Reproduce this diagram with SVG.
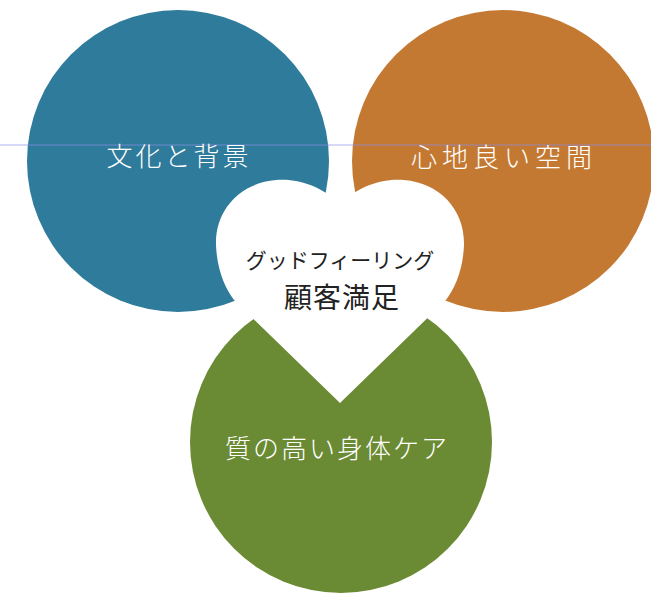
<svg xmlns="http://www.w3.org/2000/svg" width="651" height="597" viewBox="0 0 651 597">
  <style>
    .lbl { font-family: "Noto Sans CJK JP", "Noto Sans", sans-serif; font-weight: 300; fill: #ffffff; text-anchor: middle; }
    .ctr { font-family: "Noto Sans CJK JP", "Noto Sans", sans-serif; font-weight: 400; fill: #222222; text-anchor: middle; }
  </style>
  <rect x="0" y="0" width="651" height="597" fill="#ffffff"/>
  <g id="culture">
    <circle cx="178" cy="161" r="151" fill="#2e7b9b"/>
  </g>
  <g id="space">
    <circle cx="503" cy="161" r="151" fill="#c47933"/>
  </g>
  <g id="care">
    <circle cx="341" cy="442" r="151" fill="#6a8a33"/>
  </g>
  <line x1="0" y1="145" x2="651" y2="145" stroke="#8a90e6" stroke-width="2" stroke-opacity="0.35"/>
  <g id="satisfaction">
    <path d="M340 205 C325 188 300 178 276 180 C240 183 215 210 216 245 C217 270 225 288 234 300 L340 403 L446 300 C455 288 463 270 464 245 C465 210 440 183 404 180 C380 178 355 188 340 205 Z" fill="#ffffff"/>
    <text class="ctr" x="340" y="268" font-size="21">グッドフィーリング</text>
    <text class="ctr" x="342" y="308" font-size="28" letter-spacing="1">顧客満足</text>
  </g>
  <text class="lbl" x="179" y="166" font-size="26" letter-spacing="3">文化と背景</text>
  <text class="lbl" x="504" y="167" font-size="26" letter-spacing="5">心地良い空間</text>
  <text class="lbl" x="337" y="458" font-size="26" letter-spacing="2">質の高い身体ケア</text>
</svg>
